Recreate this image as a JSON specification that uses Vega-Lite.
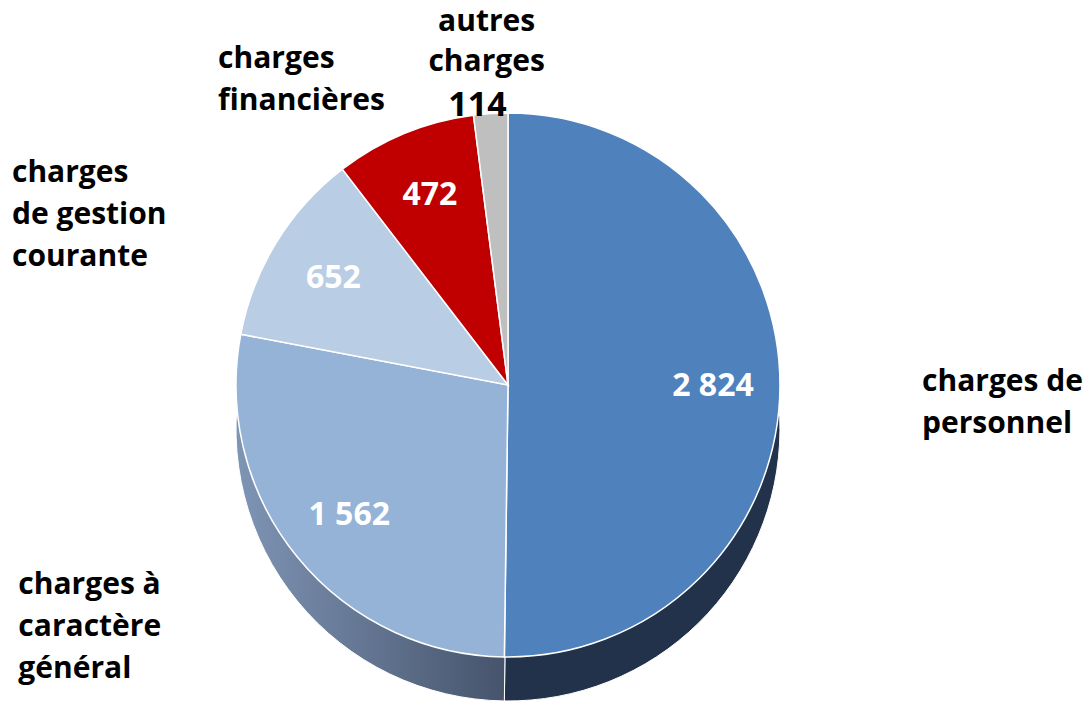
{
  "$schema": "https://vega.github.io/schema/vega-lite/v6.json",
  "width": 1016,
  "height": 642,
  "autosize": {"type": "none"},
  "padding": {"left": 0, "right": 76, "top": 64, "bottom": 0},
  "background": "white",
  "config": {
    "view": {"stroke": null},
    "locale": {"number": {"decimal": ",", "thousands": " ", "grouping": [3], "currency": ["", " €"]}},
    "text": {"font": "Open Sans", "fontWeight": "bold"}
  },
  "data": {
    "values": [
      {"cat": "charges de personnel", "label": "charges de\npersonnel", "valeur": 2824, "rang": 1},
      {"cat": "charges à caractère général", "label": "charges à\ncaractère\ngénéral", "valeur": 1562, "rang": 2},
      {"cat": "charges de gestion courante", "label": "charges\nde gestion\ncourante", "valeur": 652, "rang": 3},
      {"cat": "charges financières", "label": "charges\nfinancières", "valeur": 472, "rang": 4},
      {"cat": "autres charges", "label": "autres\ncharges", "valeur": 114, "rang": 5}
    ]
  },
  "encoding": {
    "theta": {"field": "valeur", "type": "quantitative", "stack": true},
    "order": {"field": "rang", "type": "quantitative"},
    "detail": {"field": "cat", "type": "nominal"}
  },
  "layer": [
    {
      "mark": {"type": "arc", "outerRadius": 272, "yOffset": 44, "stroke": "white", "strokeWidth": 1},
      "encoding": {
        "color": {
          "condition": {
            "test": "datum.rang === 2",
            "value": {"gradient": "linear", "x1": 0, "y1": 0, "x2": 1, "y2": 0, "stops": [{"offset": 0, "color": "#7F95B5"}, {"offset": 1, "color": "#45536B"}]}
          },
          "value": "#22324A"
        }
      }
    },
    {
      "mark": {"type": "arc", "outerRadius": 272, "stroke": "white", "strokeWidth": 1.5},
      "encoding": {
        "color": {
          "field": "cat",
          "type": "nominal",
          "legend": null,
          "scale": {
            "domain": ["charges de personnel", "charges à caractère général", "charges de gestion courante", "charges financières", "autres charges"],
            "range": ["#4F81BD", "#95B3D7", "#B9CDE5", "#C00000", "#BFBFBF"]
          }
        }
      }
    },
    {
      "mark": {"type": "text", "radius": 205, "fontSize": 32, "color": "white", "align": "center", "baseline": "middle"},
      "encoding": {
        "text": {"condition": {"test": "datum.rang < 5", "field": "valeur", "format": ",d"}, "value": ""}
      }
    },
    {
      "mark": {"type": "text", "radius": 292, "dx": -12, "dy": 12, "fontSize": 34, "color": "black", "align": "center", "baseline": "middle"},
      "encoding": {
        "text": {"condition": {"test": "datum.rang === 5", "field": "valeur", "format": ",d"}, "value": ""}
      }
    },
    {
      "mark": {"type": "text", "radius": 414, "dy": -6, "fontSize": 30, "lineHeight": 42, "lineBreak": "\n", "color": "black", "align": "left", "baseline": "middle"},
      "encoding": {
        "text": {"condition": {"test": "datum.rang === 1", "field": "label"}, "value": ""}
      }
    },
    {
      "mark": {"type": "text", "radius": 383, "dx": -193, "dy": -42, "fontSize": 30, "lineHeight": 42, "lineBreak": "\n", "color": "black", "align": "left", "baseline": "middle"},
      "encoding": {
        "text": {"condition": {"test": "datum.rang === 2", "field": "label"}, "value": ""}
      }
    },
    {
      "mark": {"type": "text", "radius": 323, "dx": -221, "dy": -43, "fontSize": 30, "lineHeight": 42, "lineBreak": "\n", "color": "black", "align": "left", "baseline": "middle"},
      "encoding": {
        "text": {"condition": {"test": "datum.rang === 3", "field": "label"}, "value": ""}
      }
    },
    {
      "mark": {"type": "text", "radius": 333, "dx": -163, "dy": -18, "fontSize": 30, "lineHeight": 42, "lineBreak": "\n", "color": "black", "align": "left", "baseline": "middle"},
      "encoding": {
        "text": {"condition": {"test": "datum.rang === 4", "field": "label"}, "value": ""}
      }
    },
    {
      "mark": {"type": "text", "radius": 336, "dy": -28, "fontSize": 30, "lineHeight": 40, "lineBreak": "\n", "color": "black", "align": "center", "baseline": "middle"},
      "encoding": {
        "text": {"condition": {"test": "datum.rang === 5", "field": "label"}, "value": ""}
      }
    }
  ]
}
